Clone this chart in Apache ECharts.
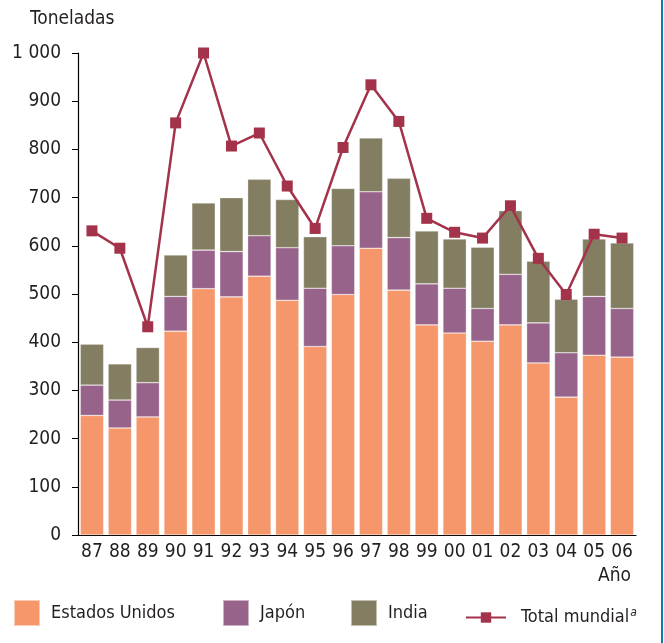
<!DOCTYPE html>
<html>
<head>
<meta charset="utf-8">
<script src="https://cdn.jsdelivr.net/npm/echarts@6/dist/echarts.min.js"></script>
<style>
  html, body { margin: 0; padding: 0; background: #fff; }
  #chart { width: 664px; height: 643px; }
</style>
</head>
<body>
<div id="chart"></div>
<script>
// toneladas por año
var years = ['87','88','89','90','91','92','93','94','95','96','97','98','99','00','01','02','03','04','05','06'];
var eeuu  = [248, 222, 245, 423, 511, 494, 537, 487, 391, 499, 595, 508, 436, 419, 402, 436, 357, 286, 373, 369];
var japon = [ 63,  58,  71,  72,  80,  94,  84, 109, 121, 101, 117, 109,  85,  93,  68, 105,  83,  92, 122, 101];
var india = [ 85,  75,  73,  86,  98, 112, 117, 100, 107, 119, 112, 123, 110, 102, 127, 132, 128, 111, 119, 136];
var total = [631, 595, 432, 855, 1000, 807, 834, 724, 636, 804, 934, 858, 657, 628, 616, 683, 574, 499, 624, 616];
var yTicks = [0, 100, 200, 300, 400, 500, 600, 700, 800, 900, 1000];

var font = "'DejaVu Sans Condensed', sans-serif";
var txt = '#231f20';
var colUS = '#f5966b', colJP = '#98638b', colIN = '#837e62', colTot = '#a3334a';

var chart = echarts.init(document.getElementById('chart'));

function legendFor(name, left, top, w, h, pad) {
    return {
        data: [name],
        left: left,
        top: top,
        padding: 0,
        itemWidth: w,
        itemHeight: h,
        itemGap: 0,
        icon: 'rect',
        selectedMode: false,
        textStyle: { fontFamily: font, fontSize: 18, color: txt, padding: [0, 0, 0, pad] }
    };
}

var totLegend = legendFor('Total mundial', 465, 607, 40, 13, 10);
delete totLegend.icon;
totLegend.formatter = function () { return '{n|Total mundial}{s|a}'; };
totLegend.textStyle.rich = {
    n: { fontFamily: font, fontSize: 18, color: txt },
    s: { fontFamily: font, fontSize: 12, fontStyle: 'italic', color: txt, verticalAlign: 'top', padding: [0, 0, 9, 1] }
};

var option = {
    animation: false,
    grid: {
        left: 78,
        right: 28,
        top: 53,
        bottom: 108
    },
    legend: [
        legendFor('Estados Unidos', 13, 599, 26, 26, 6),
        legendFor('Japón', 222, 599, 26, 26, 6),
        legendFor('India', 350, 599, 26, 26, 6),
        totLegend
    ],
    xAxis: {
        type: 'category',
        data: years,
        axisLine: { lineStyle: { color: '#000', width: 1.2 } },
        axisTick: { length: 5, lineStyle: { color: '#000' } },
        axisLabel: { interval: 0, fontFamily: font, fontSize: 19, color: txt, margin: 8 }
    },
    yAxis: {
        type: 'value',
        min: 0,
        max: 1000,
        interval: 100,
        splitLine: { show: false },
        axisLine: { show: true, lineStyle: { color: '#000', width: 1.2 } },
        axisTick: { show: true, length: 6, lineStyle: { color: '#000' } },
        axisLabel: {
            fontFamily: font, fontSize: 19, color: txt, margin: 17,
            formatter: function (v) {
                return yTicks.indexOf(v) < 0 ? '' : String(v).replace(/\B(?=(\d{3})+(?!\d))/g, ' ');
            }
        }
    },
    series: [
        {
            name: 'Estados Unidos',
            type: 'bar',
            stack: 't',
            barCategoryGap: '16%',
            data: eeuu,
            itemStyle: { color: colUS, borderColor: 'rgba(255,255,255,0.5)', borderWidth: 0.6 }
        },
        {
            name: 'Japón',
            type: 'bar',
            stack: 't',
            data: japon,
            itemStyle: { color: colJP, borderColor: 'rgba(255,255,255,0.5)', borderWidth: 0.6 }
        },
        {
            name: 'India',
            type: 'bar',
            stack: 't',
            data: india,
            itemStyle: { color: colIN, borderColor: 'rgba(255,255,255,0.5)', borderWidth: 0.6 }
        },
        {
            name: 'Total mundial',
            type: 'line',
            data: total,
            z: 5,
            symbol: 'rect',
            symbolSize: 11,
            lineStyle: { color: colTot, width: 2.5 },
            itemStyle: { color: colTot }
        }
    ],
    graphic: [
        { type: 'text', left: 30, top: 10, style: { text: 'Toneladas', font: '19px ' + font, fill: txt } },
        { type: 'text', left: 598, top: 567, style: { text: 'Año', font: '19px ' + font, fill: txt } },
        { type: 'line', shape: { x1: 662, y1: 0, x2: 662, y2: 643 }, style: { stroke: '#0a7db0', lineWidth: 2 } }
    ]
};
chart.setOption(option);
</script>
</body>
</html>
